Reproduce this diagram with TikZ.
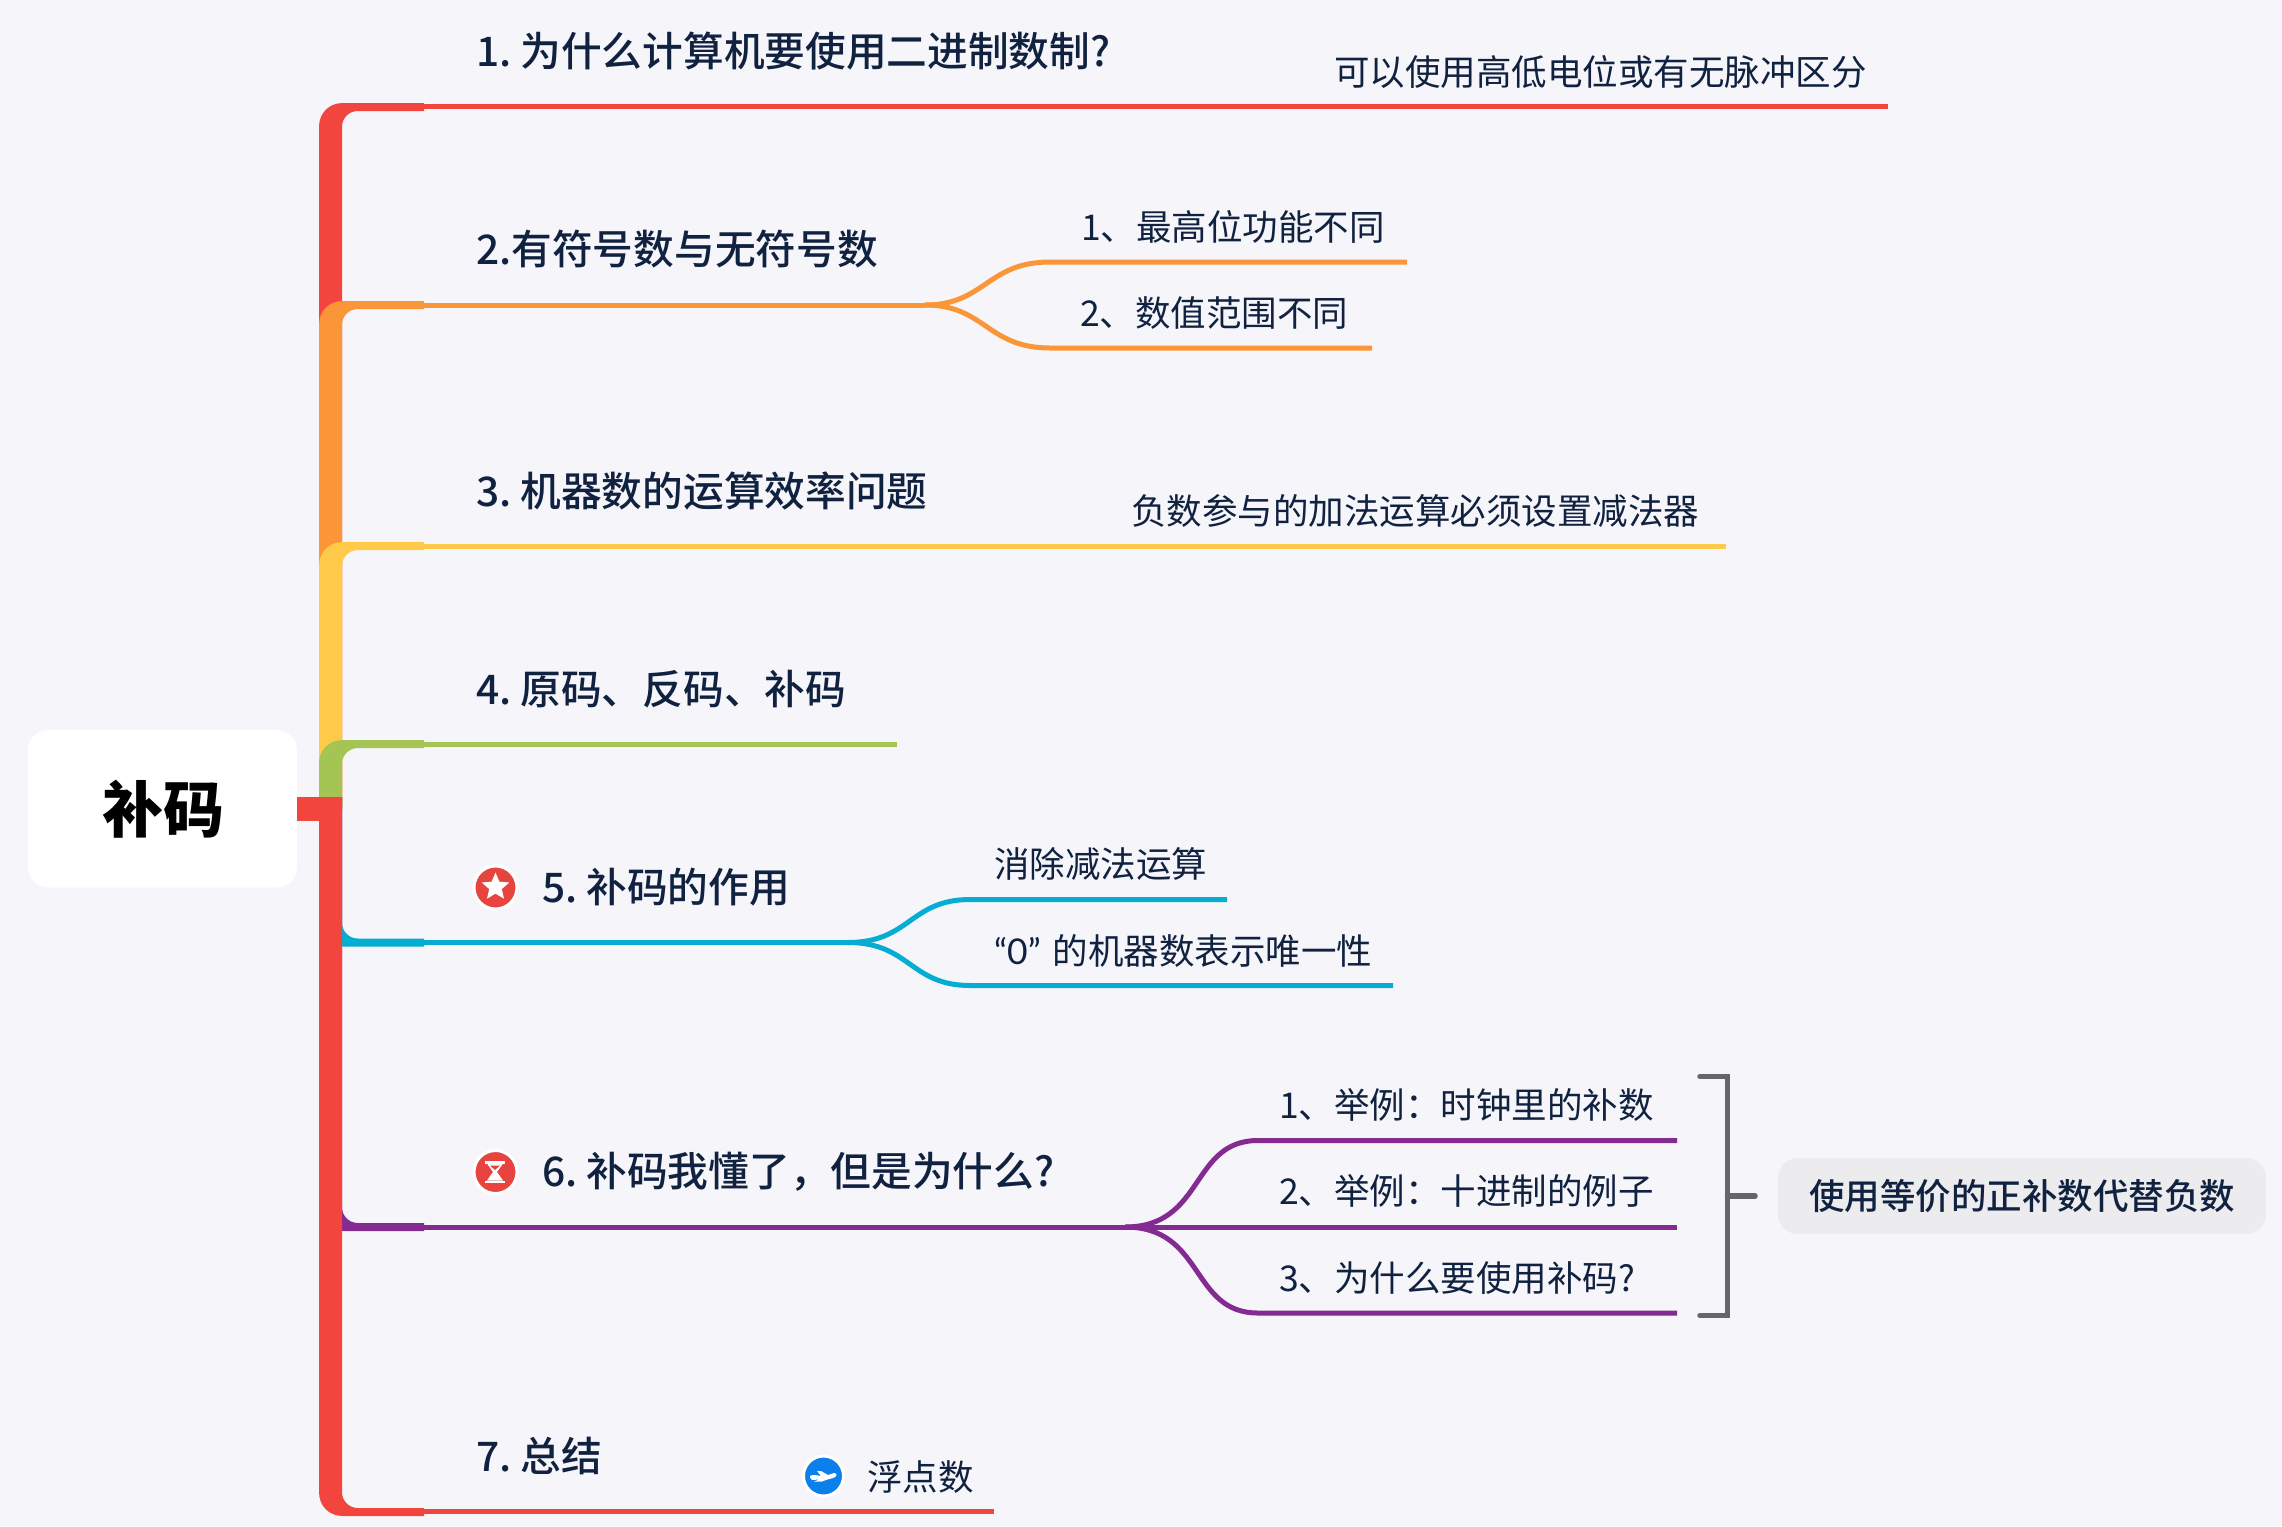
\documentclass[tikz,border=0pt]{standalone}
\usepackage{fontspec}
\setmainfont{Noto Sans CJK SC}
\newfontfamily\medf{Noto Sans CJK SC Medium}
\newfontfamily\latf{Lato}
\usetikzlibrary{shapes.geometric}
\definecolor{bgc}{HTML}{F5F5FA}
\definecolor{txt}{HTML}{102240}
\definecolor{cred}{HTML}{F2453D}
\definecolor{corange}{HTML}{FB9638}
\definecolor{cyellow}{HTML}{FFC94A}
\definecolor{cgreen}{HTML}{A4C553}
\definecolor{cblue}{HTML}{06ADD2}
\definecolor{cpurple}{HTML}{842B91}
\definecolor{cgray}{HTML}{666666}
\definecolor{cnote}{HTML}{ECECEE}
\definecolor{cicon}{HTML}{E8443F}
\definecolor{cplane}{HTML}{0B7FEA}
\newcommand{\topbranch}[2]{\fill[#1] (319,809) -- (319,#2+24) .. controls (319,#2+10) and (329,#2) .. (343,#2) -- (424,#2) -- (424,#2+8) -- (358,#2+8) .. controls (349,#2+8) and (342,#2+15) .. (342,#2+24) -- (342,809) -- cycle;}
\newcommand{\botbranch}[2]{\fill[#1] (319,797) -- (319,#2-24) .. controls (319,#2-10) and (329,#2) .. (343,#2) -- (424,#2) -- (424,#2-8) -- (358,#2-8) .. controls (349,#2-8) and (342,#2-15) .. (342,#2-24) -- (342,797) -- cycle;}
\tikzset{
  x=1pt,y=-1pt,
  title/.style={anchor=base west,inner sep=0pt,text=txt,font=\fontsize{40.7}{41}\selectfont\medf},
  sub/.style={anchor=base west,inner sep=0pt,text=txt,font=\fontsize{35.5}{36}\selectfont},
  limb/.style={line width=5pt},
  fork/.style={line width=5pt},
}
\begin{document}
\begin{tikzpicture}
\useasboundingbox (0,0) rectangle (2282,1526);
\fill[bgc] (0,0) rectangle (2282,1526);
% trunk pieces
\topbranch{cred}{103}
\topbranch{corange}{301}
\topbranch{cyellow}{542}
\topbranch{cgreen}{740}
\botbranch{cpurple}{1231}
\botbranch{cblue}{946.5}
\botbranch{cred}{1516}
\fill[cred] (342,920) rectangle (319,1300);
% root
\node[fill=white,rounded corners=20pt,minimum width=269pt,minimum height=157.5pt,inner sep=0pt,font=\fontsize{61}{61}\selectfont\bfseries,text=black] (root) at (162.5,808.75) {\hspace{2pt}补码};
\coordinate (hub) at (342,809);
\draw[cred,line width=24pt] (root.east |- hub) -- (hub);
% coordinates of branch ends
\coordinate (a0) at (424,106.5); \coordinate (a1) at (1888,106.5);
\coordinate (b0) at (424,305); \coordinate (bf) at (925,305);
\coordinate (b1) at (1050,262); \coordinate (b1e) at (1407,262);
\coordinate (b2) at (1050,348); \coordinate (b2e) at (1372,348);
\coordinate (c0) at (424,546); \coordinate (c1) at (1726,546);
\coordinate (d0) at (424,744); \coordinate (d1) at (897,744);
\coordinate (e0) at (424,942.5); \coordinate (ef) at (848,942.5);
\coordinate (e1) at (970,899.5); \coordinate (e1e) at (1227,899.5);
\coordinate (e2) at (970,985.5); \coordinate (e2e) at (1393,985.5);
\coordinate (f0) at (424,1227); \coordinate (ff) at (1125,1227);
\coordinate (f1) at (1258,1140.5); \coordinate (f1e) at (1677,1140.5);
\coordinate (f2) at (1677,1227);
\coordinate (f3) at (1258,1313); \coordinate (f3e) at (1677,1313);
\coordinate (g0) at (424,1511.5); \coordinate (g1) at (994,1511.5);
% branch lines
\draw[limb,cred] (a0) -- (a1);
\draw[limb,corange] (b0) -- (bf);
\draw[fork,corange] (bf) .. controls (985,305) and (987,262) .. (b1) -- (b1e);
\draw[fork,corange] (bf) .. controls (985,305) and (987,348) .. (b2) -- (b2e);
\draw[limb,cyellow] (c0) -- (c1);
\draw[limb,cgreen] (d0) -- (d1);
\draw[limb,cblue] (e0) -- (ef);
\draw[fork,cblue] (ef) .. controls (910,942.5) and (910,899.5) .. (e1) -- (e1e);
\draw[fork,cblue] (ef) .. controls (910,942.5) and (910,985.5) .. (e2) -- (e2e);
\draw[limb,cpurple] (f0) -- (ff);
\draw[fork,cpurple] (ff) .. controls (1205,1227) and (1190,1140.5) .. (f1) -- (f1e);
\draw[fork,cpurple] (ff) -- (f2);
\draw[fork,cpurple] (ff) .. controls (1205,1227) and (1190,1313) .. (f3) -- (f3e);
\draw[limb,cred] (g0) -- (g1);
% titles
\node[title] (t1) at (476,66) {1.\hspace{9pt}为什么计算机要使用二进制数制?};
\node[title] (t2) at (476,264) {2.有符号数与无符号数};
\node[title] (t3) at (476,506) {3.\hspace{9pt}机器数的运算效率问题};
\node[title] (t4) at (476,704) {4.\hspace{9pt}原码、反码、补码};
\node[title] (t5) at (542,902) {5.\hspace{9pt}补码的作用};
\node[title] (t6) at (542,1186) {6.\hspace{9pt}补码我懂了，但是为什么?};
\node[title] (t7) at (476,1471) {7.\hspace{9pt}总结};
% sub texts
\node[sub] (s1) at (1334,85) {可以使用高低电位或有无脉冲区分};
\node[sub] (s21) at (1081,240) {1、最高位功能不同};
\node[sub] (s22) at (1080,326) {2、数值范围不同};
\node[sub] (s3) at (1131,524) {负数参与的加法运算必须设置减法器};
\node[sub] (s51) at (994,877) {消除减法运算};
\node[sub] (s52) at (994,964) {{\latf “0”}\hspace{12pt}的机器数表示唯一性};
\node[sub] (s61) at (1279,1118) {1、举例：时钟里的补数};
\node[sub] (s62) at (1279,1204) {2、举例：十进制的例子};
\node[sub] (s63) at (1279,1291) {3、为什么要使用补码?};
\node[sub] (s7) at (867,1490) {浮点数};
% icons
\node[circle,fill=cicon,draw=white,line width=3pt,minimum size=43pt,inner sep=0pt] (istar) at (495.5,887.5) {};
\node[star,star points=5,star point ratio=2.2,fill=white,minimum size=29pt,inner sep=0pt] (istarg) at (495.5,887) {};
\node[circle,fill=cicon,draw=white,line width=3pt,minimum size=43pt,inner sep=0pt] (iglass) at (495.5,1172) {};
\fill[white] (485,1161) rectangle (505,1163.5);
\fill[white] (485,1180.5) rectangle (505,1183);
\fill[white] (487,1163.5) -- (503,1163.5) -- (497,1172) -- (503,1180.5) -- (487,1180.5) -- (493,1172) -- cycle;
\fill[cicon] (490,1165.5) -- (500,1165.5) -- (495,1170) -- cycle;
\node[circle,fill=cplane,draw=white,line width=3pt,minimum size=40pt,inner sep=0pt] (iplane) at (823.5,1476) {};
\fill[white] (812,1480) .. controls (808,1476) and (810,1475) .. (815,1475) -- (821,1476) -- (817,1471) -- (821,1471) -- (828,1475) -- (834,1473) .. controls (838,1473) and (837,1477) .. (833,1478) -- (826,1480) -- (822,1481.5) -- (814,1481.5) -- (819,1479.5) -- cycle;
% bracket
\coordinate (brT) at (1700,1076.5); \coordinate (brTR) at (1727.5,1076.5);
\coordinate (brB) at (1700,1315.5); \coordinate (brBR) at (1727.5,1315.5);
\coordinate (brM) at (1727.5,1196); \coordinate (brS) at (1755,1196);
\draw[cgray,line width=5.5pt,line cap=round,line join=miter] (brT) -- (brTR) -- (brBR) -- (brB);
\draw[cgray,line width=5.5pt,line cap=round] (brM) -- (brS);
% note
\node[fill=cnote,rounded corners=20pt,minimum width=488pt,minimum height=76pt,inner sep=0pt,text=txt,font=\fontsize{35.5}{36}\selectfont\medf] (note) at (2022,1196) {使用等价的正补数代替负数};
\end{tikzpicture}
\end{document}
